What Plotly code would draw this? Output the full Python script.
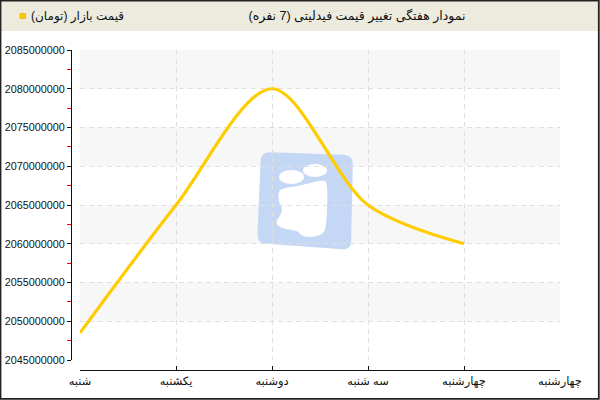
import plotly.graph_objects as go

# ---------------- data ----------------
days = ["شنبه", "یکشنبه", "دوشنبه", "سه شنبه", "چهارشنبه", "چهارشنبه"]
day_index = [0, 1, 2, 3, 4, 5]
prices = [2048500000, 2065000000, 2080000000, 2065000000, 2060000000]
y_ticks = [2045000000, 2050000000, 2055000000, 2060000000, 2065000000,
           2070000000, 2075000000, 2080000000, 2085000000]
title_text = "نمودار هفتگی تغییر قیمت فیدلیتی (7 نفره)"
series_name = "قیمت بازار (تومان)"

# ---------------- layout constants ----------------
FW, FH = 600, 400
L, R, T, B = 71, 40, 50, 30
W, H = FW - L - R, FH - T - B
PL, PR, PT, PB = 80, 560, 50, 360   # plot area in pixels
LINE_COLOR = "#ffcc00"
FONT = "Tahoma, Liberation Sans, DejaVu Sans, sans-serif"


def px(x):
    return (x - L) / W


def py(y):
    return (FH - B - y) / H


def dx(x):
    return day_index[0] + (x - PL) / (PR - PL) * (day_index[-1] - day_index[0])


def dy(y):
    return y_ticks[0] + (PB - y) / (PB - PT) * (y_ticks[-1] - y_ticks[0])


def towards(a, b, d):
    vx, vy = b[0] - a[0], b[1] - a[1]
    ln = (vx * vx + vy * vy) ** 0.5
    return (a[0] + vx / ln * d, a[1] + vy / ln * d)


def rounded_path(points, r):
    n = len(points)
    segs = []
    for i in range(n):
        p0, p1, p2 = points[i - 1], points[i], points[(i + 1) % n]
        a = towards(p1, p0, r)
        b = towards(p1, p2, r)
        cmd = "M" if i == 0 else "L"
        segs.append(f"{cmd}{dx(a[0])},{dy(a[1])}")
        segs.append(f"Q{dx(p1[0])},{dy(p1[1])} {dx(b[0])},{dy(b[1])}")
    return " ".join(segs) + " Z"


def smooth_path(points):
    n = len(points)
    mids = [((points[i][0] + points[(i + 1) % n][0]) / 2,
             (points[i][1] + points[(i + 1) % n][1]) / 2) for i in range(n)]
    segs = [f"M{dx(mids[-1][0])},{dy(mids[-1][1])}"]
    for i in range(n):
        p = points[i]
        m = mids[i]
        segs.append(f"Q{dx(p[0])},{dy(p[1])} {dx(m[0])},{dy(m[1])}")
    return " ".join(segs) + " Z"


fig = go.Figure()
fig.add_trace(go.Scatter(
    x=day_index[:len(prices)], y=prices, mode="lines",
    line=dict(color=LINE_COLOR, width=3.2, shape="spline", smoothing=0.9),
    showlegend=False, hoverinfo="skip",
))

shapes = []
# title bar
shapes.append(dict(type="rect", xref="paper", yref="paper", layer="below",
                   x0=px(0), x1=px(FW), y0=py(31), y1=py(0),
                   fillcolor="#ecebdd", line=dict(width=0)))
# alternating bands
for i in range(len(y_ticks) - 1):
    if i % 2 == 1:
        shapes.append(dict(type="rect", xref="x", yref="y", layer="below",
                           x0=day_index[0], x1=day_index[-1],
                           y0=y_ticks[i], y1=y_ticks[i + 1],
                           fillcolor="#f7f7f7", line=dict(width=0)))

# watermark logo (below the grid, above the bands)
logo_pts = [(261, 152), (353, 155), (351, 250), (257, 243)]
shapes.append(dict(type="path", xref="x", yref="y", layer="below",
                   path=rounded_path(logo_pts, 9),
                   fillcolor="#c4d8f6", line=dict(width=0)))
shapes.append(dict(type="circle", xref="x", yref="y", layer="below",
                   x0=dx(279), x1=dx(304), y0=dy(184), y1=dy(170),
                   fillcolor="white", line=dict(width=0)))
shapes.append(dict(type="circle", xref="x", yref="y", layer="below",
                   x0=dx(303), x1=dx(327), y0=dy(177), y1=dy(164),
                   fillcolor="white", line=dict(width=0)))
body_zoom = [(118, 150), (140, 142), (175, 138), (215, 128), (250, 120), (262, 128),
             (262, 200), (258, 260), (250, 282), (215, 292), (185, 288), (172, 272),
             (140, 268), (112, 258), (108, 242), (122, 226), (128, 206), (116, 186),
             (115, 165)]
body_pts = [(x / 3 + 240, y / 3 + 140) for x, y in body_zoom]
shapes.append(dict(type="path", xref="x", yref="y", layer="below",
                   path=smooth_path(body_pts), fillcolor="white", line=dict(width=0)))

# legend square
shapes.append(dict(type="rect", xref="paper", yref="paper", layer="above",
                   x0=px(20), x1=px(25.5), y0=py(18.5), y1=py(13.5),
                   fillcolor=LINE_COLOR, line=dict(width=0.6, color="#d4a800")))
# outer frame
shapes.append(dict(type="path", xref="paper", yref="paper", layer="above",
                   path=f"M{px(0.5)},{py(0.5)} L{px(0.5)},{py(398.8)} L{px(598.8)},{py(398.8)} L{px(598.8)},{py(0.5)} Z",
                   line=dict(color="#222222", width=1.8)))

fig.update_layout(
    width=FW, height=FH,
    margin=dict(l=L, r=R, t=T, b=B, pad=0, autoexpand=False),
    paper_bgcolor="white", plot_bgcolor="rgba(0,0,0,0)",
    font=dict(family=FONT, size=11.4, color="#111111"),
    title=dict(text=title_text, x=357 / FW, xanchor="center", xref="container",
               y=(FH - 16) / FH, yanchor="middle", yref="container",
               font=dict(family=FONT, size=12.5, color="#111111")),
    shapes=shapes,
    annotations=[dict(text=series_name, xref="paper", yref="paper",
                      x=px(28.5), y=py(16), xanchor="left", yanchor="middle",
                      showarrow=False, font=dict(family=FONT, size=12, color="#111111"))],
    showlegend=False,
    xaxis=dict(
        domain=[px(PL), 1], anchor="free", position=0, automargin=False,
        range=[day_index[0], day_index[-1]],
        tickvals=day_index, ticktext=days,
        showline=True, linecolor="#111111", linewidth=1,
        ticks="inside", ticklen=4, tickcolor="#111111",
        showgrid=True, gridcolor="#e0e0e0", griddash="5px,4px", gridwidth=1,
        zeroline=False, fixedrange=True,
    ),
    yaxis=dict(
        domain=[py(PB), 1], anchor="free", position=0, automargin=False,
        range=[y_ticks[0], y_ticks[-1]],
        tickvals=y_ticks, tickformat="d",
        tickfont=dict(family=FONT, size=10.8, color="#111111"),
        showline=True, linecolor="#111111", linewidth=1,
        ticks="outside", ticklen=4, tickcolor="#111111",
        minor=dict(ticks="outside", ticklen=4, tickcolor="#ff0000",
                   tickvals=[(a + b) / 2 for a, b in zip(y_ticks[:-1], y_ticks[1:])],
                   showgrid=False),
        showgrid=True, gridcolor="#e0e0e0", griddash="5px,4px", gridwidth=1,
        zeroline=False, fixedrange=True,
    ),
)

fig.write_html("out.html", config={"displayModeBar": False},
               post_script="document.body.style.margin='0';")
